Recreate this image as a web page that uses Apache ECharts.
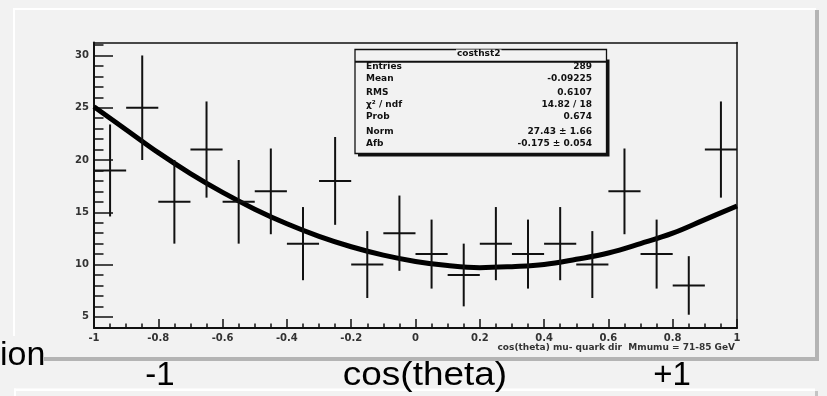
<!DOCTYPE html>
<html>
<head>
<meta charset="utf-8">
<script src="https://cdn.jsdelivr.net/npm/echarts@6/dist/echarts.min.js"></script>
<style>
  html, body { margin: 0; padding: 0; background: #f2f2f2; }
  #chart { width: 827px; height: 396px; }
</style>
</head>
<body>
<div id="chart"></div>
<script>
// Histogram of cos(theta): 20 bins of width 0.1 between -1 and 1
const binWidth = 0.1;
const binCenters = [-0.95, -0.85, -0.75, -0.65, -0.55, -0.45, -0.35, -0.25, -0.15, -0.05,
                    0.05, 0.15, 0.25, 0.35, 0.45, 0.55, 0.65, 0.75, 0.85, 0.95];
const counts = [19, 25, 16, 21, 16, 17, 12, 18, 10, 13,
                11, 9, 12, 11, 12, 10, 17, 11, 8, 21];
const errors = [4.4, 5.0, 4.0, 4.6, 4.0, 4.1, 3.5, 4.2, 3.2, 3.6,
                3.3, 3.0, 3.5, 3.3, 3.5, 3.2, 4.1, 3.3, 2.8, 4.6];

// Fitted curve, sampled every 0.1 in cos(theta)
const fitX = [-1.0, -0.9, -0.8, -0.7, -0.6, -0.5, -0.4, -0.3, -0.2, -0.1, 0.0,
              0.1, 0.2, 0.3, 0.4, 0.5, 0.6, 0.7, 0.8, 0.9, 1.0];
const fitY = [25.1, 22.9, 20.7, 18.7, 16.9, 15.3, 13.9, 12.7, 11.7, 10.9, 10.3,
              9.9, 9.7, 9.8, 10.0, 10.5, 11.1, 12.0, 13.0, 14.3, 15.6];

// Axis ranges and tick values
const xRange = [-1, 1];
const yRange = [3.93, 31.24];
const yMajorTicks = [5, 10, 15, 20, 25, 30];
const yMinorTicks = [4, 6, 7, 8, 9, 11, 12, 13, 14, 16, 17, 18, 19, 21, 22, 23, 24,
                     26, 27, 28, 29, 31];
const xTitle = 'cos(theta) mu- quark dir  Mmumu = 71-85 GeV';

// Statistics box contents
const statsTitle = 'costhst2';
const statsLabels = ['Entries', 'Mean', 'RMS', 'χ² / ndf', 'Prob', 'Norm', 'Afb'];
const statsValues = ['289', '-0.09225', '0.6107', '14.82 / 18', '0.674', '27.43 ± 1.66', '-0.175 ± 0.054'];

// Slide captions below the plot
const captionLeft = '-1';
const captionMid = 'cos(theta)';
const captionRight = '+1';
const sideText = 'ion';

// ---- layout ----
const INK = '#111';
const smallFont = 'DejaVu Sans';
const statsBox = { x1: 355, y1: 49.5, x2: 606.5, y2: 153.5 };
const statsRowY = [66.7, 79, 92.3, 104.3, 116.7, 131.7, 143.3];

const chart = echarts.init(document.getElementById('chart'), null, { renderer: 'canvas' });

const graphics = [];
// slide panel edges
graphics.push({ type: 'rect', shape: { x: 13, y: 8, width: 803, height: 2 }, style: { fill: '#ffffff' }, z: 1 });
graphics.push({ type: 'rect', shape: { x: 13, y: 8, width: 2, height: 350 }, style: { fill: '#ffffff' }, z: 1 });
graphics.push({ type: 'rect', shape: { x: 815, y: 10, width: 4, height: 351 }, style: { fill: '#b4b4b4' }, z: 1 });
graphics.push({ type: 'rect', shape: { x: 14, y: 357, width: 805, height: 4 }, style: { fill: '#b4b4b4' }, z: 1 });
// lower panel edge
graphics.push({ type: 'rect', shape: { x: 14, y: 388.5, width: 801, height: 2.5 }, style: { fill: '#ffffff' }, z: 1 });
graphics.push({ type: 'rect', shape: { x: 14, y: 388.5, width: 2, height: 8 }, style: { fill: '#ffffff' }, z: 1 });
graphics.push({ type: 'rect', shape: { x: 815, y: 391, width: 3, height: 5 }, style: { fill: '#c4c4c4' }, z: 1 });
// side caption with its own backdrop
graphics.push({ type: 'rect', shape: { x: 0, y: 336, width: 44, height: 40 }, style: { fill: '#f2f2f2' }, z: 2 });
graphics.push({ type: 'text', x: 0, y: 356, z: 3,
  style: { text: sideText, font: '34px "Liberation Sans", Arial, sans-serif', fill: '#000',
           textAlign: 'left', textVerticalAlign: 'middle' } });
// captions under the plot
graphics.push({ type: 'text', x: 160, y: 375.5, z: 3,
  style: { text: captionLeft, font: '33px "Liberation Sans", Arial, sans-serif', fill: '#000',
           textAlign: 'center', textVerticalAlign: 'middle' } });
graphics.push({ type: 'text', x: 425, y: 375.5, scaleX: 1.12, z: 3,
  style: { text: captionMid, font: '33px "Liberation Sans", Arial, sans-serif', fill: '#000',
           textAlign: 'center', textVerticalAlign: 'middle' } });
graphics.push({ type: 'text', x: 672, y: 375.5, z: 3,
  style: { text: captionRight, font: '33px "Liberation Sans", Arial, sans-serif', fill: '#000',
           textAlign: 'center', textVerticalAlign: 'middle' } });

// statistics box: shadow, frame, title band, rows
const sb = statsBox;
graphics.push({ type: 'rect', z: 100, shape: { x: sb.x1 + 3, y: sb.y1 + 10, width: sb.x2 - sb.x1, height: sb.y2 - sb.y1 - 7 },
  style: { fill: INK } });
graphics.push({ type: 'rect', z: 101, shape: { x: sb.x1, y: sb.y1, width: sb.x2 - sb.x1, height: sb.y2 - sb.y1 },
  style: { fill: '#f2f2f2', stroke: INK, lineWidth: 1.3 } });
graphics.push({ type: 'line', z: 102, shape: { x1: sb.x1, y1: 61.7, x2: sb.x2 + 2, y2: 61.7 },
  style: { stroke: INK, lineWidth: 2 } });
graphics.push({ type: 'text', z: 103, x: (sb.x1 + sb.x2) / 2 - 2, y: 54,
  style: { text: statsTitle, font: 'bold 9px "' + smallFont + '"', fill: INK,
           textAlign: 'center', textVerticalAlign: 'middle', backgroundColor: '#f2f2f2', padding: [0, 1] } });
statsLabels.forEach((lab, i) => {
  graphics.push({ type: 'text', z: 103, x: 366, y: statsRowY[i],
    style: { text: lab, font: 'bold 9px "' + smallFont + '"', fill: INK, textAlign: 'left', textVerticalAlign: 'middle' } });
  graphics.push({ type: 'text', z: 103, x: 592, y: statsRowY[i],
    style: { text: statsValues[i], font: 'bold 9px "' + smallFont + '"', fill: INK, textAlign: 'right', textVerticalAlign: 'middle' } });
});

const tickLabelStyle = {
  fontFamily: smallFont, fontWeight: 'bold', fontSize: 10, color: '#333'
};

const option = {
  backgroundColor: '#f2f2f2',
  animation: false,
  grid: { left: 94, right: 90, top: 42.5, bottom: 68, containLabel: false, outerBoundsMode: 'none' },
  xAxis: [
    {
      type: 'value', min: xRange[0], max: xRange[1], interval: 0.2, position: 'bottom',
      axisLine: { show: true, onZero: false, lineStyle: { color: INK, width: 2 } },
      axisTick: { show: true, inside: true, length: 9, lineStyle: { color: INK, width: 1.5 } },
      minorTick: { show: true, splitNumber: 4, length: 4.5, lineStyle: { color: INK, width: 1.5 } },
      splitLine: { show: false }, minorSplitLine: { show: false },
      axisLabel: Object.assign({ margin: 5 }, tickLabelStyle),
      name: xTitle, nameLocation: 'end', nameGap: -2,
      nameTextStyle: { fontFamily: smallFont, fontWeight: 'bold', fontSize: 9, color: '#333',
                       align: 'right', verticalAlign: 'top', padding: [15, 0, 0, 0] }
    },
    {
      type: 'value', min: xRange[0], max: xRange[1], position: 'top',
      axisLine: { show: true, onZero: false, lineStyle: { color: INK, width: 1.5 } },
      axisTick: { show: false }, axisLabel: { show: false }, splitLine: { show: false }
    }
  ],
  yAxis: [
    {
      type: 'value', min: yRange[0], max: yRange[1], position: 'left',
      axisLine: { show: true, onZero: false, lineStyle: { color: INK, width: 2 } },
      axisTick: { show: true, inside: true, length: 19, customValues: yMajorTicks, lineStyle: { color: INK, width: 1.5 } },
      axisLabel: Object.assign({ margin: 5, customValues: yMajorTicks }, tickLabelStyle),
      splitLine: { show: false }
    },
    {
      type: 'value', min: yRange[0], max: yRange[1], position: 'left',
      axisLine: { show: false, onZero: false },
      axisTick: { show: true, inside: true, length: 9.5, customValues: yMinorTicks, lineStyle: { color: INK, width: 1.5 } },
      axisLabel: { show: false }, splitLine: { show: false }
    },
    {
      type: 'value', min: yRange[0], max: yRange[1], position: 'right',
      axisLine: { show: true, onZero: false, lineStyle: { color: INK, width: 1.5 } },
      axisTick: { show: false }, axisLabel: { show: false }, splitLine: { show: false }
    }
  ],
  series: [
    {
      name: 'fit', type: 'line', xAxisIndex: 0, yAxisIndex: 0,
      data: fitX.map((x, i) => [x, fitY[i]]),
      smooth: 0.4, showSymbol: false, symbol: 'none',
      lineStyle: { color: '#000', width: 5 }, z: 4, silent: true
    },
    {
      name: 'cos(theta)', type: 'custom', xAxisIndex: 0, yAxisIndex: 0,
      data: binCenters.map((c, i) => [c, counts[i], errors[i]]),
      encode: { x: 0, y: 1 },
      renderItem: function (params, api) {
        const x = api.value(0), y = api.value(1), e = api.value(2);
        const pL = api.coord([x - binWidth / 2, y]);
        const pR = api.coord([x + binWidth / 2, y]);
        const pT = api.coord([x, y + e]);
        const pB = api.coord([x, y - e]);
        const st = { stroke: INK, lineWidth: 2 };
        return {
          type: 'group',
          children: [
            { type: 'line', shape: { x1: pL[0], y1: pL[1], x2: pR[0], y2: pR[1] }, style: st },
            { type: 'line', shape: { x1: pT[0], y1: pT[1], x2: pB[0], y2: pB[1] }, style: st }
          ]
        };
      },
      z: 5, silent: true
    }
  ],
  graphic: { elements: graphics }
};

chart.setOption(option);
</script>
</body>
</html>
